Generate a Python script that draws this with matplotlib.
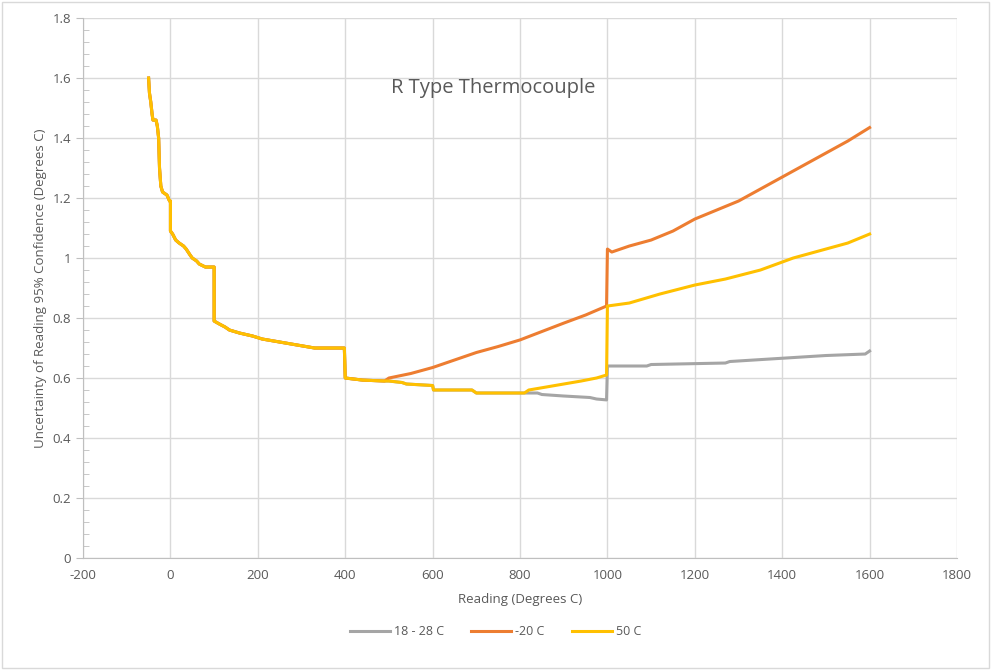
import matplotlib.pyplot as plt
from matplotlib.ticker import MultipleLocator, FuncFormatter

# shared part of all three curves (reading, uncertainty)
common_x = [-50, -48, -45, -42, -40, -33, -30, -27, -25, -24, -22, -18, -8, -2, 0, 0,
            5, 12, 20, 30, 36, 45, 50, 60, 66, 80, 100, 100, 112, 125, 135, 158, 188,
            210, 250, 290, 330, 398, 400, 440, 490]
common_y = [1.60, 1.55, 1.52, 1.48, 1.46, 1.46, 1.44, 1.40, 1.30, 1.28, 1.24, 1.22, 1.21,
            1.19, 1.19, 1.09, 1.08, 1.06, 1.05, 1.04, 1.03, 1.01, 1.00, 0.99, 0.98, 0.97,
            0.97, 0.79, 0.78, 0.77, 0.76, 0.75, 0.74, 0.73, 0.72, 0.71, 0.70, 0.70, 0.60,
            0.593, 0.59]

# 50 C tail
hot_x = [500, 530, 540, 600, 602, 690, 700, 810, 820, 860, 900, 940, 975, 998, 1000,
         1050, 1120, 1200, 1270, 1350, 1425, 1500, 1550, 1600]
hot_y = [0.59, 0.585, 0.58, 0.575, 0.56, 0.56, 0.55, 0.55, 0.56, 0.57, 0.58, 0.59, 0.60,
         0.61, 0.84, 0.85, 0.88, 0.91, 0.93, 0.96, 1.00, 1.03, 1.05, 1.08]

# 18 - 28 C tail
room_x = [500, 530, 540, 600, 602, 690, 700, 840, 850, 900, 960, 975, 998, 1000, 1090,
          1100, 1270, 1280, 1390, 1500, 1590, 1600]
room_y = [0.59, 0.585, 0.58, 0.575, 0.56, 0.56, 0.55, 0.55, 0.545, 0.54, 0.535, 0.53,
          0.527, 0.64, 0.64, 0.645, 0.65, 0.655, 0.665, 0.675, 0.68, 0.69]

# -20 C tail
cold_x = [500, 550, 600, 650, 700, 750, 800, 850, 900, 950, 998, 1000, 1010, 1050, 1100,
          1150, 1200, 1250, 1300, 1350, 1400, 1450, 1500, 1550, 1600]
cold_y = [0.60, 0.615, 0.635, 0.66, 0.685, 0.705, 0.727, 0.755, 0.783, 0.81, 0.84, 1.03,
          1.02, 1.04, 1.06, 1.09, 1.13, 1.16, 1.19, 1.23, 1.27, 1.31, 1.35, 1.39, 1.435]

txt = '#595959'
plt.rcParams['font.family'] = ['Open Sans', 'DejaVu Sans']
plt.rcParams['axes.unicode_minus'] = False

fig = plt.figure(figsize=(9.91, 6.7), dpi=100)
ax = fig.add_axes([0.0838, 0.1672, 0.8819, 0.8058])

ax.plot(common_x + room_x, common_y + room_y, color='#A5A5A5', lw=2.2, label='18 - 28 C')
ax.plot(common_x + cold_x, common_y + cold_y, color='#ED7D31', lw=2.2, label='-20 C')
ax.plot(common_x + hot_x, common_y + hot_y, color='#FFC000', lw=2.2, label='50 C')

ax.set_xlim(-200, 1800)
ax.set_ylim(0, 1.8)
ax.xaxis.set_major_locator(MultipleLocator(200))
ax.yaxis.set_major_locator(MultipleLocator(0.2))
ax.yaxis.set_minor_locator(MultipleLocator(0.04))
ax.yaxis.set_major_formatter(FuncFormatter(lambda v, p: '%g' % round(v, 2)))
ax.grid(True, which='major', color='#D9D9D9', lw=1)
ax.set_axisbelow(True)
for s in ['top', 'right']:
  ax.spines[s].set_visible(False)
for s in ['left', 'bottom']:
  ax.spines[s].set_color('#BFBFBF')
ax.tick_params(axis='y', which='major', length=5, color='#BFBFBF', labelcolor=txt, labelsize=9.5)
ax.tick_params(axis='y', which='minor', length=4, direction='in', color='#BFBFBF')
ax.tick_params(axis='x', length=0, labelcolor=txt, labelsize=9.5, pad=8)

ax.set_xlabel('Reading (Degrees C)', color=txt, fontsize=9.5, labelpad=8)
ax.set_ylabel('Uncertainty of Reading 95% Confidence (Degrees C)', color=txt, fontsize=9.5)
ax.text(738, 1.566, 'R Type Thermocouple', color=txt, fontsize=14.5, ha='center', va='center')

fig.legend(loc='center', bbox_to_anchor=(0.5, 0.057), ncol=3, frameon=False,
           fontsize=9, labelcolor=txt, handlelength=3.2, columnspacing=2.2, handletextpad=0.3)
fig.patches.append(plt.Rectangle((0.002, 0.003), 0.996, 0.994, transform=fig.transFigure,
                                 fill=False, edgecolor='#D9D9D9', lw=1))

fig.savefig('out.png', dpi=100)
